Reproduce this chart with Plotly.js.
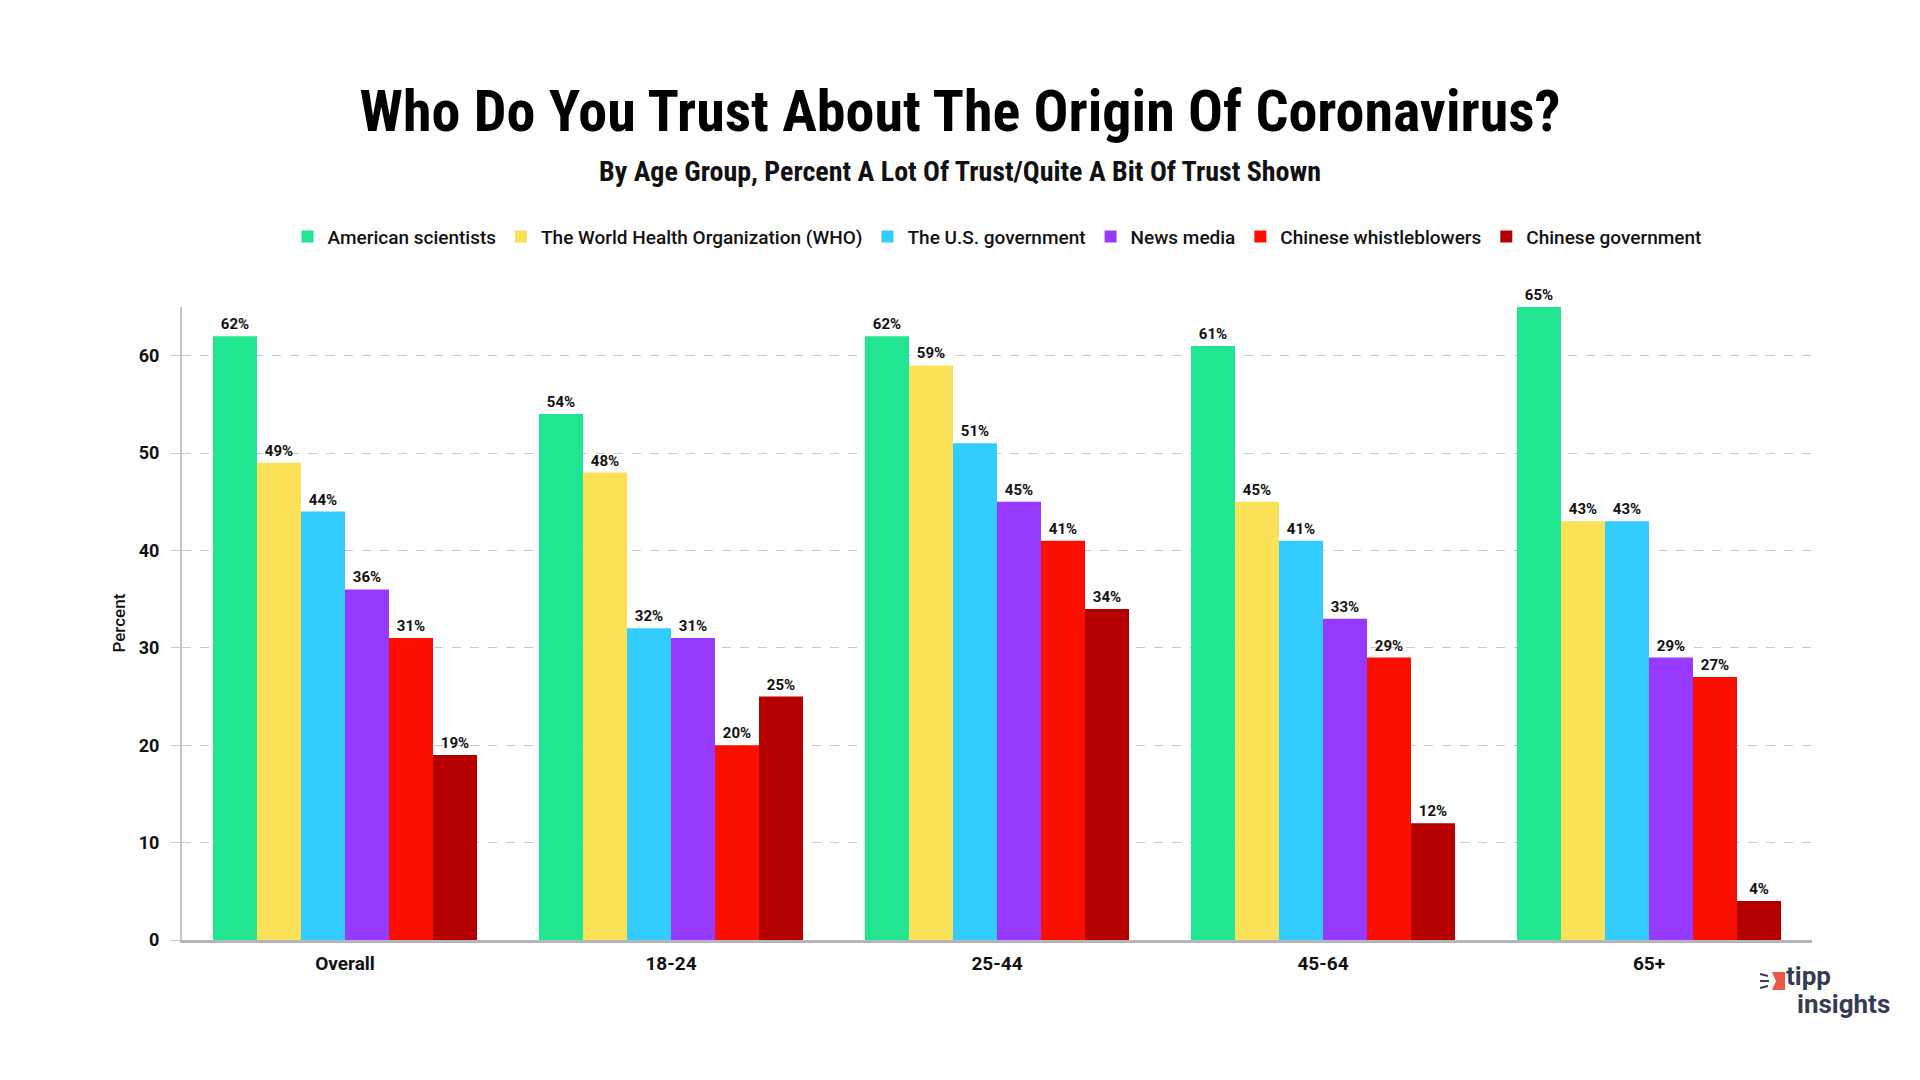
<!DOCTYPE html>
<html>
<head>
<meta charset="utf-8">
<script src="https://cdn.plot.ly/plotly-3.0.1.min.js"></script>
<style>
  html, body { margin: 0; padding: 0; background: #ffffff; }
  #chart { width: 1920px; height: 1080px; }
</style>
</head>
<body>
<div id="chart"></div>
<script>
// ---- data ----
const categories = ["Overall", "18-24", "25-44", "45-64", "65+"];
const seriesNames = [
  "American scientists",
  "The World Health Organization (WHO)",
  "The U.S. government",
  "News media",
  "Chinese whistleblowers",
  "Chinese government"
];
const americanScientists = [62, 54, 62, 61, 65];
const who = [49, 48, 59, 45, 43];
const usGovernment = [44, 32, 51, 41, 43];
const newsMedia = [36, 31, 45, 33, 29];
const chineseWhistleblowers = [31, 20, 41, 29, 27];
const chineseGovernment = [19, 25, 34, 12, 4];
const yTicks = [0, 10, 20, 30, 40, 50, 60];

const seriesValues = [americanScientists, who, usGovernment, newsMedia, chineseWhistleblowers, chineseGovernment];
const colors = ["#21E590", "#FAE157", "#33CCFF", "#963AFF", "#FA0F00", "#B50000"];

const baseFont = "Roboto, 'Noto Sans', sans-serif";

const traces = seriesNames.map((name, i) => ({
  type: "bar",
  name: name,
  x: categories,
  y: seriesValues[i],
  marker: { color: colors[i], line: { width: 0 } },
  texttemplate: "%{y}%",
  textposition: "outside",
  cliponaxis: false,
  textfont: { family: baseFont, size: 15, color: "#111111", weight: 700 },
  hoverinfo: "x+y+name"
}));

const px = v => (v - 182) / 1630;
const py = v => (940 - v) / 632.5;

const layout = {
  width: 1920,
  height: 1080,
  paper_bgcolor: "#ffffff",
  plot_bgcolor: "#ffffff",
  margin: { l: 182, r: 108, t: 307, b: 140 },
  barmode: "group",
  bargap: 0.19,
  bargroupgap: 0,
  title: {
    text: "Who Do You Trust About The Origin Of Coronavirus?",
    x: 0.5, xref: "container", xanchor: "center",
    y: 1 - 111 / 1080, yref: "container", yanchor: "middle",
    font: { family: "'Roboto Condensed', 'Roboto', sans-serif", size: 58, color: "#000000", weight: 700 }
  },
  showlegend: true,
  legend: {
    orientation: "h",
    x: 0.5, xanchor: "center",
    y: 1.111, yanchor: "middle",
    font: { family: baseFont, size: 19, color: "#111111", weight: 500 },
    itemwidth: 30,
    tracegroupgap: 0,
    traceorder: "normal"
  },
  xaxis: {
    type: "category",
    showgrid: false,
    showline: true,
    linecolor: "#b4b4bc",
    linewidth: 3,
    ticks: "",
    ticklabelstandoff: 4,
    tickfont: { family: baseFont, size: 19, color: "#111111", weight: 700 },
    zeroline: false,
    fixedrange: true
  },
  yaxis: {
    range: [0, 65],
    tickvals: yTicks,
    ticktext: yTicks.map(String),
    showgrid: true,
    gridcolor: "#c8c8d0",
    griddash: "dash",
    gridwidth: 1,
    showline: true,
    linecolor: "#c4c4cc",
    linewidth: 2,
    ticks: "outside",
    ticklen: 9,
    tickcolor: "#c8c8d0",
    ticklabelstandoff: 8,
    tickfont: { family: baseFont, size: 18, color: "#111111", weight: 700 },
    zeroline: false,
    fixedrange: true
  },
  annotations: [
    {
      text: "By Age Group, Percent A Lot Of Trust/Quite A Bit Of Trust Shown",
      xref: "paper", yref: "paper",
      x: px(960), y: py(172),
      xanchor: "center", yanchor: "middle",
      showarrow: false,
      font: { family: "'Roboto Condensed', 'Roboto', sans-serif", size: 28, color: "#111111", weight: 700 }
    },
    {
      text: "Percent",
      xref: "paper", yref: "paper",
      x: px(118), y: 0.5,
      xanchor: "center", yanchor: "middle",
      textangle: -90,
      showarrow: false,
      font: { family: baseFont, size: 17, color: "#111111", weight: 500 }
    },
    {
      text: "tipp",
      xref: "paper", yref: "paper",
      x: px(1785), y: py(976),
      xanchor: "left", yanchor: "middle",
      borderpad: 0,
      showarrow: false,
      font: { family: baseFont, size: 26, color: "#353a55", weight: 700 }
    },
    {
      text: "insights",
      xref: "paper", yref: "paper",
      x: px(1796), y: py(1004),
      xanchor: "left", yanchor: "middle",
      borderpad: 0,
      showarrow: false,
      font: { family: baseFont, size: 26, color: "#353a55", weight: 700 }
    }
  ],
  shapes: [
    { type: "path", xref: "paper", yref: "paper",
      path: "M " + px(1772) + " " + py(972) +
            " L " + px(1785) + " " + py(972) +
            " L " + px(1785) + " " + py(990) +
            " L " + px(1772) + " " + py(990) +
            " L " + px(1776) + " " + py(981) + " Z",
      fillcolor: "#EE5744", line: { width: 0 } },
    { type: "line", xref: "paper", yref: "paper",
      x0: px(1760), x1: px(1768), y0: py(974), y1: py(976),
      line: { color: "#353a55", width: 2 } },
    { type: "line", xref: "paper", yref: "paper",
      x0: px(1760), x1: px(1769), y0: py(981), y1: py(981),
      line: { color: "#353a55", width: 2 } },
    { type: "line", xref: "paper", yref: "paper",
      x0: px(1760), x1: px(1768), y0: py(988), y1: py(986),
      line: { color: "#353a55", width: 2 } }
  ]
};

Plotly.newPlot("chart", traces, layout, { displayModeBar: false, responsive: false });
</script>
</body>
</html>
